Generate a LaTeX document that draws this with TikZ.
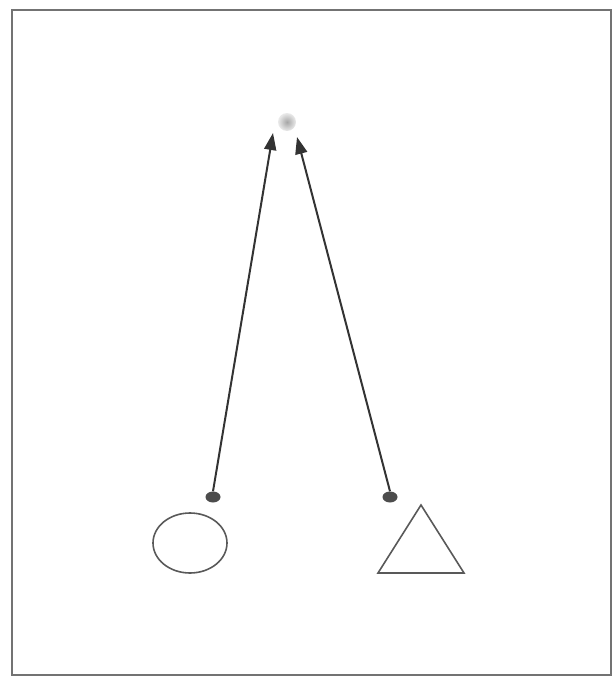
\documentclass[tikz,border=0pt]{standalone}
\usetikzlibrary{arrows.meta,shapes.geometric}
\begin{document}
\begin{tikzpicture}[x=1pt,y=-1pt,
  dotnode/.style={ellipse,fill=black!70,minimum width=15pt,minimum height=11pt,inner sep=0pt},
  ballnode/.style={circle,inner color=black!35,outer color=black!8,minimum size=18pt,inner sep=0pt},
  arr/.style={draw=black!80,line width=2pt,-{Triangle[length=17pt,width=12pt]}},
  outline/.style={draw=black!65,line width=1.6pt}]
\useasboundingbox (0,0) rectangle (613,677);
\draw[draw=black!55,line width=2pt] (12,10) rectangle (611,675);
\node[ballnode] (ball) at (287,122) {};
\node[dotnode] (dl) at (213,497) {};
\node[dotnode] (dr) at (390,497) {};
\draw[outline] (190,543) ellipse [x radius=37,y radius=30];
\draw[outline] (421,505) -- (378,573) -- (464,573) -- cycle;
\coordinate (tl) at (273,133);
\coordinate (tr) at (297,137);
\draw[arr] (dl.north) -- (tl);
\draw[arr] (dr.north) -- (tr);
\end{tikzpicture}
\end{document}
